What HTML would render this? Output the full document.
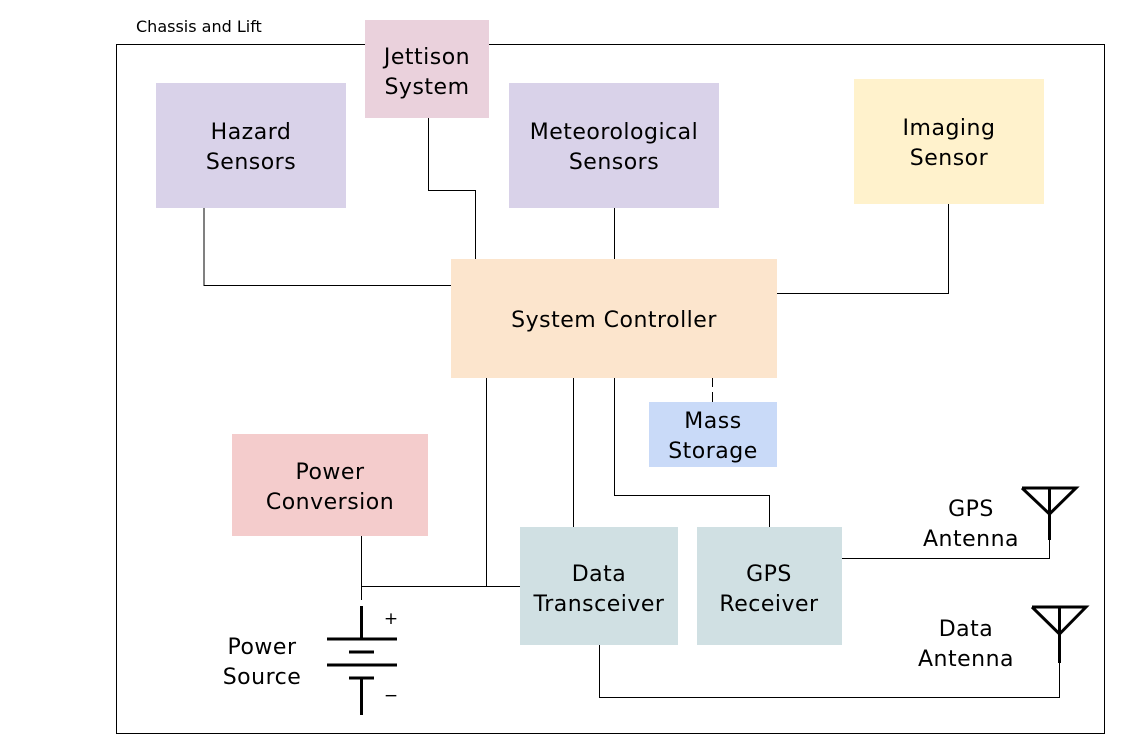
<!DOCTYPE html>
<html><head><meta charset="utf-8"><style>
html,body{margin:0;padding:0;background:#fff;}
svg{display:block;}
text{font-family:"DejaVu Sans","Liberation Sans",sans-serif;font-size:22px;letter-spacing:0.5px;fill:#000;text-anchor:middle;}
</style></head><body>
<svg width="1132" height="755" viewBox="0 0 1132 755" xmlns="http://www.w3.org/2000/svg">
<rect x="116.5" y="44.5" width="988" height="689" fill="none" stroke="#000" stroke-width="1"/>
<text x="136" y="32" style="font-size:16px;letter-spacing:0;text-anchor:start">Chassis and Lift</text>
<g fill="none" stroke="#000" stroke-width="1">
<polyline points="204,208 204,285.5 451,285.5"/>
<polyline points="428.5,118 428.5,190.5 475.5,190.5 475.5,259"/>
<line x1="614.5" y1="208" x2="614.5" y2="259"/>
<polyline points="948.5,204 948.5,293.5 777,293.5"/>
<line x1="712.5" y1="378" x2="712.5" y2="387"/>
<line x1="712.5" y1="392" x2="712.5" y2="402"/>
<polyline points="486.5,378 486.5,586.5 361.5,586.5"/>
<line x1="486" y1="586.5" x2="520" y2="586.5"/>
<line x1="573.5" y1="378" x2="573.5" y2="527"/>
<polyline points="614.5,378 614.5,495.5 769.5,495.5 769.5,527"/>
<line x1="361.5" y1="536" x2="361.5" y2="600"/>
<polyline points="842,558.5 1049.5,558.5 1049.5,540"/>
<polyline points="599.5,645 599.5,697.5 1059.5,697.5 1059.5,663"/>
</g>
<rect x="365" y="20" width="124" height="98" fill="#ead1dc"/>
<text x="427" y="64">Jettison</text><text x="427" y="94">System</text>
<rect x="156" y="83" width="190" height="125" fill="#d9d2e9"/>
<text x="251" y="139">Hazard</text><text x="251" y="169">Sensors</text>
<rect x="509" y="83" width="210" height="125" fill="#d9d2e9"/>
<text x="614" y="139">Meteorological</text><text x="614" y="169">Sensors</text>
<rect x="854" y="79" width="190" height="125" fill="#fff2cc"/>
<text x="949" y="135">Imaging</text><text x="949" y="165">Sensor</text>
<rect x="451" y="259" width="326" height="119" fill="#fce5cd"/>
<text x="614" y="327">System Controller</text>
<rect x="649" y="402" width="128" height="65" fill="#c9daf8"/>
<text x="713" y="428">Mass</text><text x="713" y="458">Storage</text>
<rect x="232" y="434" width="196" height="102" fill="#f4cccc"/>
<text x="330" y="479">Power</text><text x="330" y="509">Conversion</text>
<rect x="520" y="527" width="158" height="118" fill="#d0e0e3"/>
<text x="599" y="581">Data</text><text x="599" y="611">Transceiver</text>
<rect x="697" y="527" width="145" height="118" fill="#d0e0e3"/>
<text x="769" y="581">GPS</text><text x="769" y="611">Receiver</text>
<g stroke="#000" stroke-width="3" fill="none">
<line x1="361.5" y1="606" x2="361.5" y2="639"/>
<line x1="327" y1="639" x2="397" y2="639"/>
<line x1="349" y1="652" x2="374" y2="652"/>
<line x1="327" y1="665" x2="397" y2="665"/>
<line x1="349" y1="678" x2="374" y2="678"/>
<line x1="361.5" y1="678" x2="361.5" y2="715"/>
<polyline points="1022,488 1076,488 1049.5,514 1022,488"/>
<line x1="1049.5" y1="488" x2="1049.5" y2="540"/>
<polyline points="1032,607 1086,607 1059.5,634 1032,607"/>
<line x1="1059.5" y1="607" x2="1059.5" y2="663"/>
</g>
<text x="391" y="624" style="font-size:17px;letter-spacing:0">+</text>
<text x="391" y="701" style="font-size:17px;letter-spacing:0">−</text>
<text x="262" y="654">Power</text><text x="262" y="684">Source</text>
<text x="971" y="516">GPS</text><text x="971" y="546">Antenna</text>
<text x="966" y="636">Data</text><text x="966" y="666">Antenna</text>
</svg>
</body></html>
